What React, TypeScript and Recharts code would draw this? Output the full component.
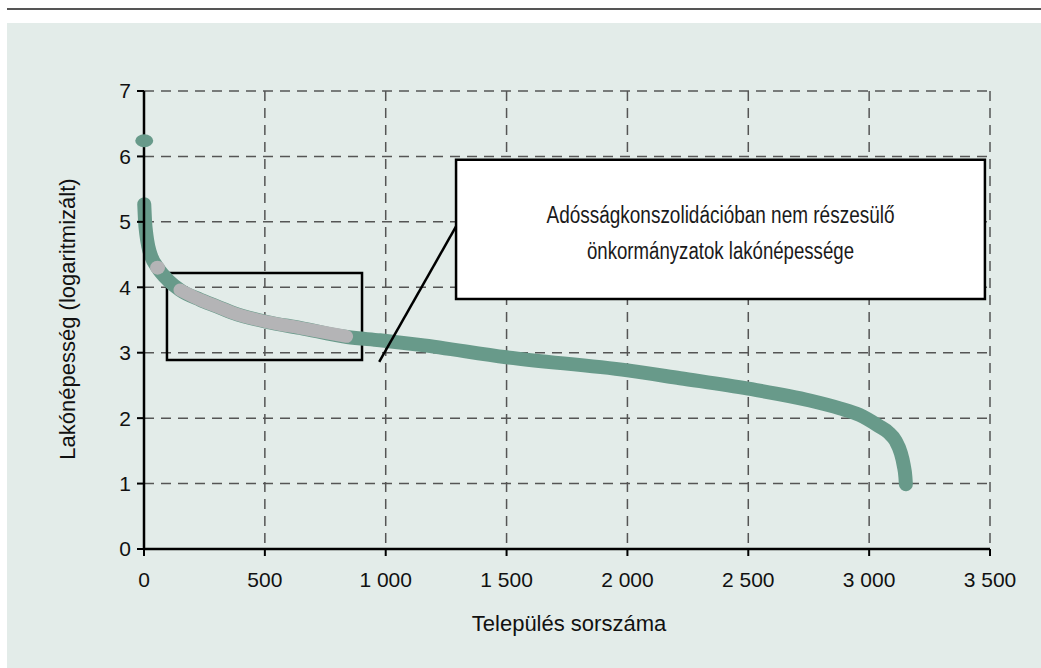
import React from 'react';
import {
  ComposedChart,
  Line,
  Scatter,
  XAxis,
  YAxis,
  CartesianGrid,
  ReferenceArea,
  ReferenceLine,
} from 'recharts';

// settlements ranked by log population
const mainRank = [1, 4, 10, 18, 30, 54, 99, 149, 232, 300, 368, 509, 645, 840, 976, 1142, 1500, 2001, 2218, 2500, 2755, 2879, 2960, 3040, 3080, 3110, 3130, 3143, 3150, 3152];
const mainLogPop = [5.27, 5.03, 4.8, 4.62, 4.47, 4.31, 4.11, 3.96, 3.81, 3.71, 3.61, 3.47, 3.38, 3.24, 3.19, 3.12, 2.93, 2.73, 2.61, 2.45, 2.27, 2.15, 2.05, 1.88, 1.78, 1.65, 1.48, 1.28, 1.1, 0.99];

// the capital, drawn apart from the curve
const capitalRank = [1];
const capitalLogPop = [6.24];

// settlements not in the debt consolidation
const greyRank = [149, 232, 300, 368, 509, 645, 838];
const greyLogPop = [3.96, 3.81, 3.71, 3.61, 3.47, 3.38, 3.25];
const greySingleRank = [56];
const greySingleLogPop = [4.3];

const xTicks = [0, 500, 1000, 1500, 2000, 2500, 3000, 3500];
const yTicks = [0, 1, 2, 3, 4, 5, 6, 7];

const boxLines = ['Adósságkonszolidációban nem részesülő', 'önkormányzatok lakónépessége'];
const boxLineWidths = [348, 267];

const zip = (xs: number[], ys: number[]) => xs.map((x, i) => ({ x, y: ys[i] }));
const mainData = zip(mainRank, mainLogPop);
const capitalData = zip(capitalRank, capitalLogPop);
const greyData = zip(greyRank, greyLogPop);
const greySingleData = zip(greySingleRank, greySingleLogPop);

const GREEN = '#689a8a';
const GREY = '#b4b4b6';
const FONT = "'Liberation Sans', Arial, sans-serif";

const fmt = (v: number) => String(v).replace(/\B(?=(\d{3})+(?!\d))/g, ' ');

const GreenDot = (props: any) => (
  <ellipse cx={props.cx} cy={props.cy} rx={9} ry={6.5} fill={GREEN} />
);
const GreyDot = (props: any) => (
  <ellipse cx={props.cx} cy={props.cy} rx={7.5} ry={7} fill={GREY} />
);

const BoxText = (props: any) => {
  const vb = props.viewBox || {};
  const cx = vb.x + vb.width / 2;
  return (
    <g>
      {boxLines.map((t, i) => (
        <text
          key={i}
          x={cx}
          y={vb.y + 63 + i * 36}
          textAnchor="middle"
          fontSize={23}
          fill="#1a1a1a"
          fontFamily={FONT}
          textLength={boxLineWidths[i]}
          lengthAdjust="spacingAndGlyphs"
        >
          {t}
        </text>
      ))}
    </g>
  );
};

export default function App() {
  return (
    <div style={{ position: 'absolute', left: 0, top: 0, width: 1041, height: 668, background: '#fff', fontFamily: FONT }}>
      <div style={{ position: 'absolute', left: 7, top: 8, width: 1034, height: 2, background: '#555' }} />
      <div style={{ position: 'absolute', left: 7, top: 23, width: 1034, height: 645, background: '#e3ece9' }} />
      <div style={{ position: 'absolute', left: 0, top: 0 }}>
        <ComposedChart
          width={1041}
          height={668}
          margin={{ top: 91, right: 51, bottom: 89, left: 104 }}
        >
          <CartesianGrid stroke="#555" strokeWidth={1.5} strokeDasharray="10 7" />
          <XAxis
            type="number"
            dataKey="x"
            domain={[0, 3500]}
            ticks={xTicks}
            tickFormatter={fmt}
            height={30}
            tickSize={7}
            tickMargin={16}
            axisLine={{ stroke: '#000', strokeWidth: 2.5 }}
            tickLine={{ stroke: '#000', strokeWidth: 2 }}
            tick={{ fill: '#111', fontSize: 21, fontFamily: FONT }}
          />
          <YAxis
            type="number"
            dataKey="y"
            domain={[0, 7]}
            ticks={yTicks}
            width={40}
            tickSize={7}
            tickMargin={6}
            axisLine={{ stroke: '#000', strokeWidth: 2.5 }}
            tickLine={{ stroke: '#000', strokeWidth: 2 }}
            tick={{ fill: '#111', fontSize: 21, fontFamily: FONT }}
          />
          <Line
            data={mainData}
            dataKey="y"
            type="monotone"
            stroke={GREEN}
            strokeWidth={14}
            strokeLinecap="round"
            strokeLinejoin="round"
            dot={false}
            activeDot={false}
            isAnimationActive={false}
          />
          <Line
            data={greyData}
            dataKey="y"
            type="monotone"
            stroke={GREY}
            strokeWidth={13}
            strokeLinecap="round"
            strokeLinejoin="round"
            dot={false}
            activeDot={false}
            isAnimationActive={false}
          />
          <Scatter data={capitalData} shape={GreenDot} isAnimationActive={false} />
          <Scatter data={greySingleData} shape={GreyDot} isAnimationActive={false} />
          <ReferenceArea
            x1={95}
            x2={902}
            y1={2.89}
            y2={4.22}
            fill="none"
            fillOpacity={0}
            stroke="#000"
            strokeWidth={2.5}
          />
          <ReferenceLine
            segment={[{ x: 973, y: 2.86 }, { x: 1291, y: 4.93 }]}
            stroke="#000"
            strokeWidth={2.5}
          />
          <ReferenceArea
            x1={1291}
            x2={3479}
            y1={3.82}
            y2={5.95}
            fill="#fff"
            fillOpacity={1}
            stroke="#000"
            strokeWidth={2.5}
            label={BoxText}
          />
        </ComposedChart>
      </div>
      <div style={{ position: 'absolute', left: 369, width: 400, top: 611, textAlign: 'center', fontSize: 22, color: '#111' }}>
        Település sorszáma
      </div>
      <div
        style={{
          position: 'absolute',
          left: 68,
          top: 319,
          transform: 'translate(-50%, -50%) rotate(-90deg)',
          whiteSpace: 'nowrap',
          fontSize: 22,
          color: '#111',
        }}
      >
        Lakónépesség (logaritmizált)
      </div>
    </div>
  );
}
